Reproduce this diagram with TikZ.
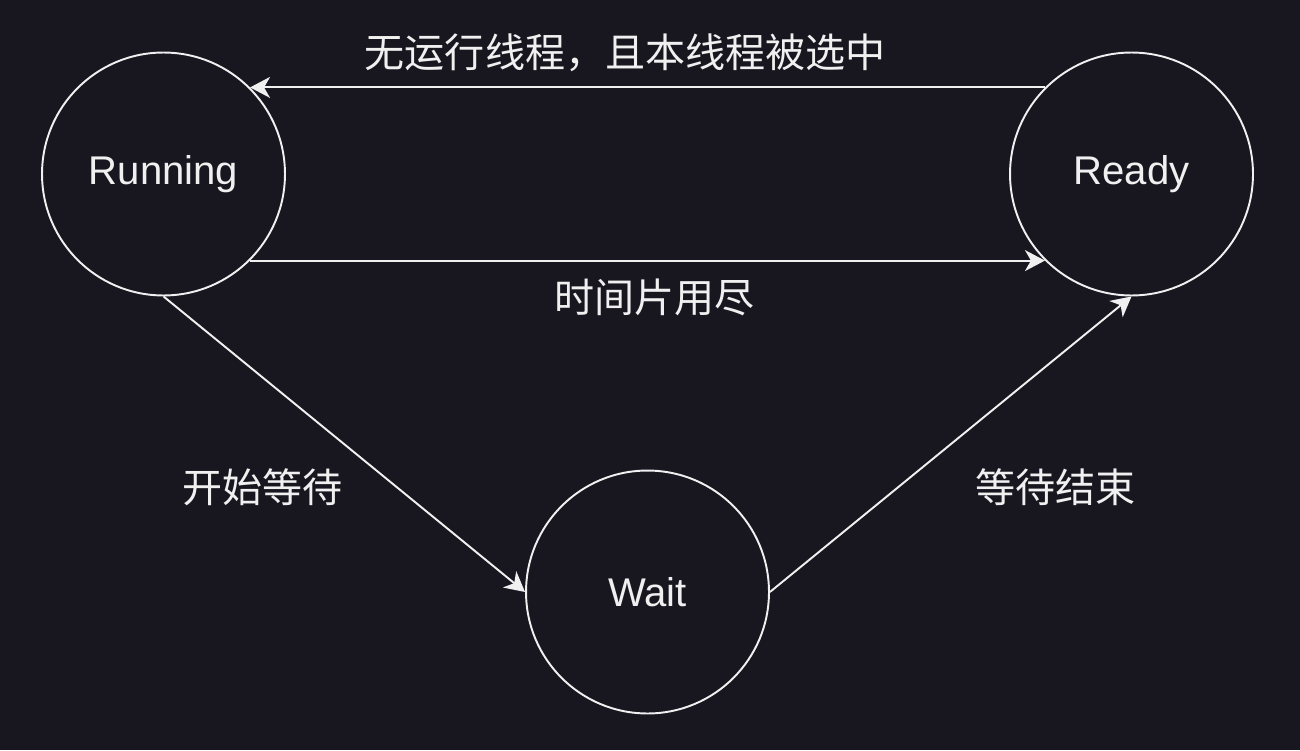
\documentclass[tikz,border=0pt]{standalone}
\usepackage{fontspec}
\setmainfont{Liberation Sans}
\newfontfamily\cjk{Noto Sans CJK SC}
\usepackage{xcolor}
\usetikzlibrary{arrows.meta, positioning}
\definecolor{bgdark}{HTML}{18161F}
\definecolor{linefg}{HTML}{F0F0F0}

\begin{document}
\begin{tikzpicture}[x=0.02cm, y=-0.02cm,
    state/.style={circle, draw=linefg, line width=1.1pt, minimum size=4.86cm, inner sep=0pt,
        text=linefg, font=\fontsize{22.8}{26}\selectfont},
    lbl/.style={text=linefg, font=\cjk\fontsize{22.8}{26}\selectfont},
    >={Stealth[length=0.4cm, width=0.42cm, inset=0.12cm, fill=linefg]}]
                        \fill[bgdark] (0, 0) rectangle (1300, 750);
                        \useasboundingbox (0, 0) rectangle (1300, 750);
                        \node[state] (running) at (163.5, 174) {Running};
                        \node[state] (ready) at (1131.5, 174) {Ready};
                        \node[state] (wait) at (647.5, 592) {Wait};
                        \draw[line width=1.1pt, color=linefg]
                        (ready.135) edge[->] node[lbl, pos=0.528, yshift=0.7cm] {无运行线程，且本线程被选中} (running.45)
                        (running.-45) edge[->] node[lbl, pos=0.509, yshift=-0.74cm] {时间片用尽} (ready.-135)
                        (running.south) edge[->] node[lbl, midway, xshift=-1.63cm, yshift=-0.87cm] {开始等待} (wait.west)
                        (wait.east) edge[->] node[lbl, midway, xshift=2.095cm, yshift=-0.865cm] {等待结束} (ready.south);
                    \end{tikzpicture}
\end{document}
